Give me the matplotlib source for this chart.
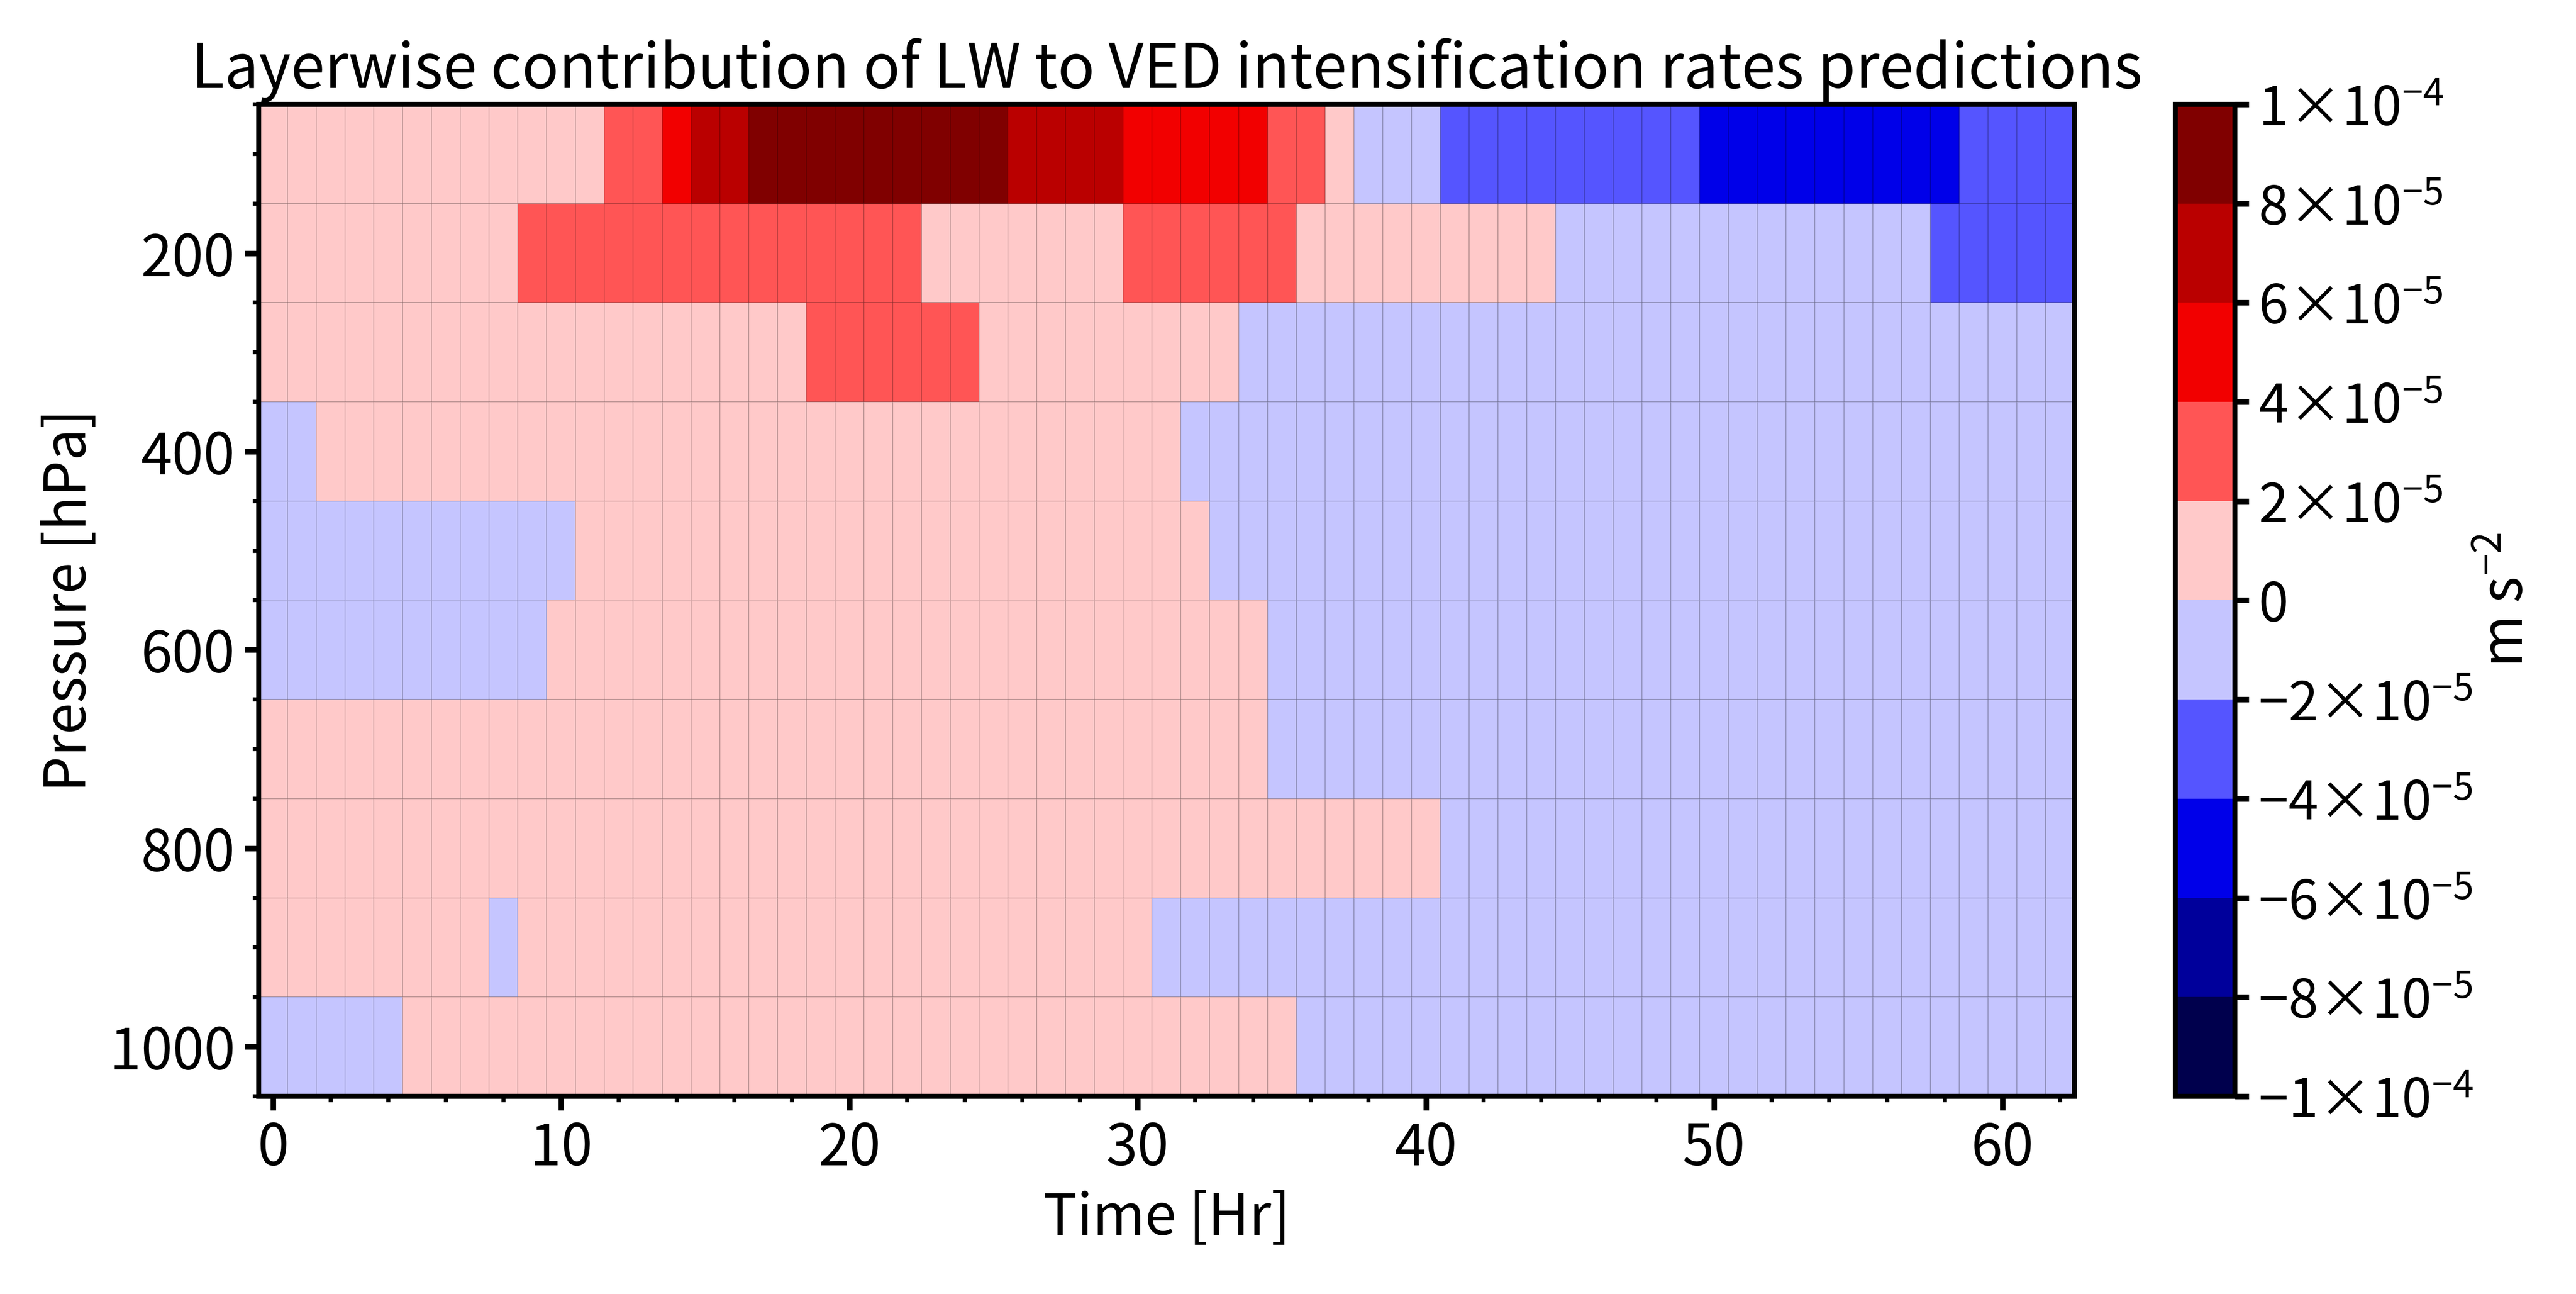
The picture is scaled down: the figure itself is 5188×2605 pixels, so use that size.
import numpy as np
import matplotlib
matplotlib.use("Agg")
import matplotlib.pyplot as plt
from matplotlib import colors, ticker

plt.rcParams['font.family'] = ['Noto Sans CJK JP', 'DejaVu Sans']
plt.rcParams['font.size'] = 20.5
plt.rcParams['mathtext.fontset'] = 'custom'
plt.rcParams['mathtext.rm'] = 'Noto Sans CJK JP'
plt.rcParams['mathtext.it'] = 'Noto Sans CJK JP'
plt.rcParams['mathtext.bf'] = 'Noto Sans CJK JP'

# forecast hour of each column and pressure level of each row
hours = list(range(63))
levels = [100, 200, 300, 400, 500, 600, 700, 800, 900, 1000]

# LW contribution, in units of 1e-5 m s-2, one list per pressure level
lw_100 = [1, 1, 1, 1, 1, 1, 1, 1, 1, 1, 1, 1, 3, 3, 5, 7, 7, 9, 9, 9,
          9, 9, 9, 9, 9, 9, 7, 7, 7, 7, 5, 5, 5, 5, 5, 3, 3, 1, -1, -1,
          -1, -3, -3, -3, -3, -3, -3, -3, -3, -3, -5, -5, -5, -5, -5, -5, -5, -5, -5, -3,
          -3, -3, -3]
lw_200 = [1, 1, 1, 1, 1, 1, 1, 1, 1, 3, 3, 3, 3, 3, 3, 3, 3, 3, 3, 3,
          3, 3, 3, 1, 1, 1, 1, 1, 1, 1, 3, 3, 3, 3, 3, 3, 1, 1, 1, 1,
          1, 1, 1, 1, 1, -1, -1, -1, -1, -1, -1, -1, -1, -1, -1, -1, -1, -1, -3, -3,
          -3, -3, -3]
lw_300 = [1, 1, 1, 1, 1, 1, 1, 1, 1, 1, 1, 1, 1, 1, 1, 1, 1, 1, 1, 3,
          3, 3, 3, 3, 3, 1, 1, 1, 1, 1, 1, 1, 1, 1, -1, -1, -1, -1, -1, -1,
          -1, -1, -1, -1, -1, -1, -1, -1, -1, -1, -1, -1, -1, -1, -1, -1, -1, -1, -1, -1,
          -1, -1, -1]
lw_400 = [-1, -1, 1, 1, 1, 1, 1, 1, 1, 1, 1, 1, 1, 1, 1, 1, 1, 1, 1, 1,
          1, 1, 1, 1, 1, 1, 1, 1, 1, 1, 1, 1, -1, -1, -1, -1, -1, -1, -1, -1,
          -1, -1, -1, -1, -1, -1, -1, -1, -1, -1, -1, -1, -1, -1, -1, -1, -1, -1, -1, -1,
          -1, -1, -1]
lw_500 = [-1, -1, -1, -1, -1, -1, -1, -1, -1, -1, -1, 1, 1, 1, 1, 1, 1, 1, 1, 1,
          1, 1, 1, 1, 1, 1, 1, 1, 1, 1, 1, 1, 1, -1, -1, -1, -1, -1, -1, -1,
          -1, -1, -1, -1, -1, -1, -1, -1, -1, -1, -1, -1, -1, -1, -1, -1, -1, -1, -1, -1,
          -1, -1, -1]
lw_600 = [-1, -1, -1, -1, -1, -1, -1, -1, -1, -1, 1, 1, 1, 1, 1, 1, 1, 1, 1, 1,
          1, 1, 1, 1, 1, 1, 1, 1, 1, 1, 1, 1, 1, 1, 1, -1, -1, -1, -1, -1,
          -1, -1, -1, -1, -1, -1, -1, -1, -1, -1, -1, -1, -1, -1, -1, -1, -1, -1, -1, -1,
          -1, -1, -1]
lw_700 = [1, 1, 1, 1, 1, 1, 1, 1, 1, 1, 1, 1, 1, 1, 1, 1, 1, 1, 1, 1,
          1, 1, 1, 1, 1, 1, 1, 1, 1, 1, 1, 1, 1, 1, 1, -1, -1, -1, -1, -1,
          -1, -1, -1, -1, -1, -1, -1, -1, -1, -1, -1, -1, -1, -1, -1, -1, -1, -1, -1, -1,
          -1, -1, -1]
lw_800 = [1, 1, 1, 1, 1, 1, 1, 1, 1, 1, 1, 1, 1, 1, 1, 1, 1, 1, 1, 1,
          1, 1, 1, 1, 1, 1, 1, 1, 1, 1, 1, 1, 1, 1, 1, 1, 1, 1, 1, 1,
          1, -1, -1, -1, -1, -1, -1, -1, -1, -1, -1, -1, -1, -1, -1, -1, -1, -1, -1, -1,
          -1, -1, -1]
lw_900 = [1, 1, 1, 1, 1, 1, 1, 1, -1, 1, 1, 1, 1, 1, 1, 1, 1, 1, 1, 1,
          1, 1, 1, 1, 1, 1, 1, 1, 1, 1, 1, -1, -1, -1, -1, -1, -1, -1, -1, -1,
          -1, -1, -1, -1, -1, -1, -1, -1, -1, -1, -1, -1, -1, -1, -1, -1, -1, -1, -1, -1,
          -1, -1, -1]
lw_1000 = [-1, -1, -1, -1, -1, 1, 1, 1, 1, 1, 1, 1, 1, 1, 1, 1, 1, 1, 1, 1,
           1, 1, 1, 1, 1, 1, 1, 1, 1, 1, 1, 1, 1, 1, 1, 1, -1, -1, -1, -1,
           -1, -1, -1, -1, -1, -1, -1, -1, -1, -1, -1, -1, -1, -1, -1, -1, -1, -1, -1, -1,
           -1, -1, -1]
unit = 1e-5

cbar_ticks = [-1e-4, -8e-5, -6e-5, -4e-5, -2e-5, 0, 2e-5, 4e-5, 6e-5, 8e-5, 1e-4]

field = np.array([lw_100, lw_200, lw_300, lw_400, lw_500,
                  lw_600, lw_700, lw_800, lw_900, lw_1000]) * unit


def sci_label(v, pos):
    if abs(v) < 1e-12:
        return r'$0$'
    exp = int(np.floor(np.log10(abs(v)) + 1e-9))
    mant = int(round(v / 10 ** exp))
    return r'$%d{\times}10^{%d}$' % (mant, exp)


fig = plt.figure(figsize=(5188 / 400, 2605 / 400), dpi=400)
ax = fig.add_axes([0.1004, 0.1528, 0.7049, 0.7666])
cax = fig.add_axes([0.8444, 0.1528, 0.0232, 0.7666])

norm = colors.BoundaryNorm(cbar_ticks, 256)
mesh = ax.pcolormesh(hours, levels, field, cmap='seismic', norm=norm,
                     shading='nearest', edgecolors=(0, 0, 0, 0.16), linewidth=0.3)
ax.set_xlim(-0.5, 62.5)
ax.set_ylim(1050, 50)

ax.set_xticks([0, 10, 20, 30, 40, 50, 60])
ax.set_yticks([200, 400, 600, 800, 1000])
ax.xaxis.set_minor_locator(ticker.MultipleLocator(2))
ax.yaxis.set_minor_locator(ticker.MultipleLocator(50))
ax.tick_params(which='major', length=5, width=2)
ax.tick_params(which='minor', length=2.1, width=1.5)
for sp in ax.spines.values():
    sp.set_linewidth(1.8)

ax.set_title('Layerwise contribution of LW to VED intensification rates predictions',
             fontsize=22.2)
ax.set_xlabel('Time [Hr]')
ax.set_ylabel('Pressure [hPa]')

cbar = fig.colorbar(mesh, cax=cax, ticks=cbar_ticks,
                    format=ticker.FuncFormatter(sci_label))
cbar.outline.set_linewidth(1.8)
cbar.ax.tick_params(length=5, width=2, labelsize=19.5)
cbar.set_label(r'm s$^{-2}$')
cbar.ax.yaxis.set_label_coords(5.05, 0.5)

fig.savefig('out.png', dpi=400)
